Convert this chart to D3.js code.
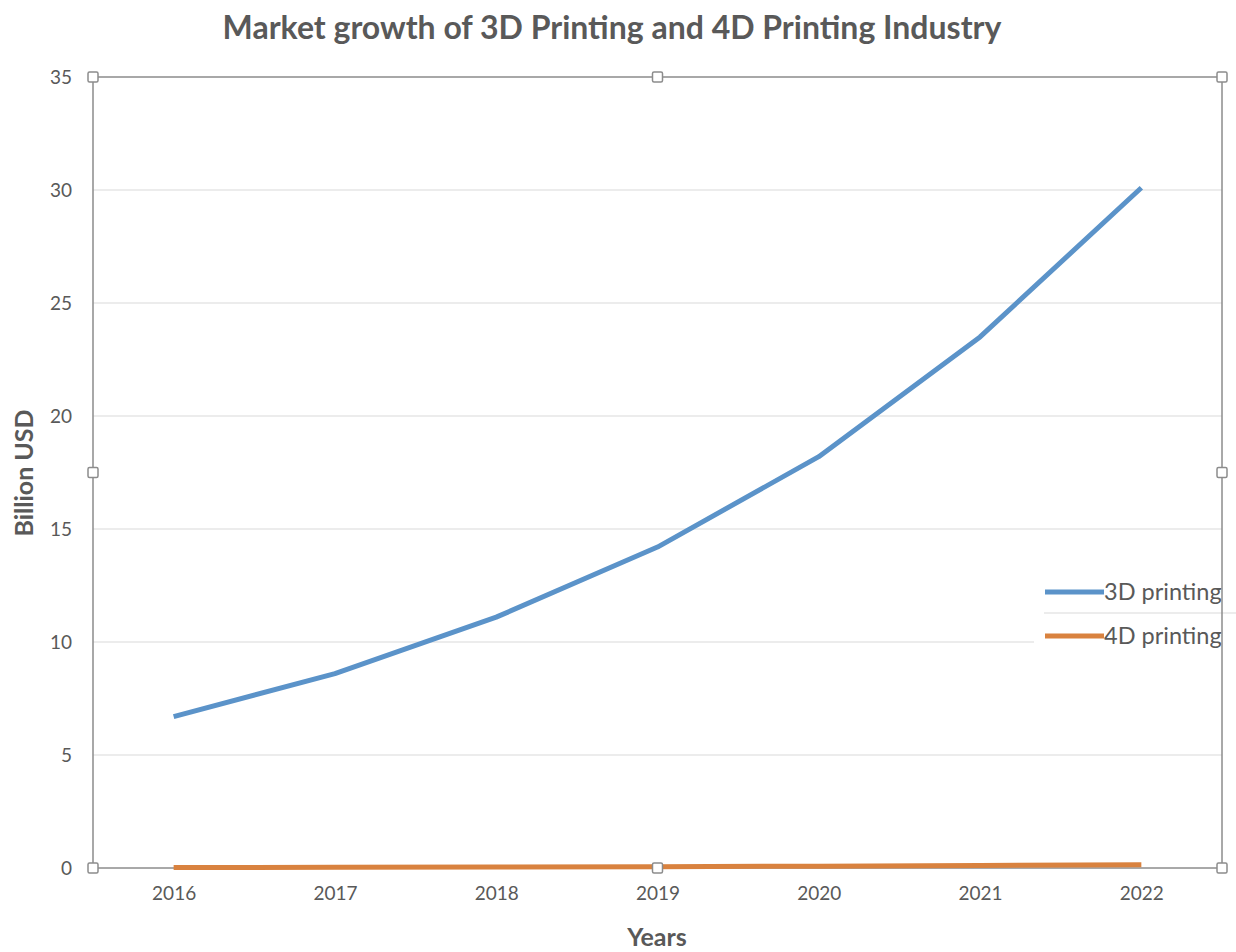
<!DOCTYPE html>
<html>
<head>
<meta charset="utf-8">
<script src="https://cdn.jsdelivr.net/npm/d3@7"></script>
<style>
  body { margin: 0; background: #fff; }
  svg { display: block; font-family: Lato, "Open Sans", sans-serif; }
</style>
</head>
<body>
<svg id="chart" width="1236" height="952"></svg>
<script>
// Data
const years = ['2016', '2017', '2018', '2019', '2020', '2021', '2022'];
const printing3D = [6.7, 8.6, 11.1, 14.2, 18.2, 23.5, 30.1];
const printing4D = [0.02, 0.03, 0.04, 0.06, 0.08, 0.11, 0.14];
const yTicks = [0, 5, 10, 15, 20, 25, 30, 35];
const seriesNames = ['3D printing', '4D printing'];
const seriesColors = ['#5b93c9', '#d9823f'];

const W = 1236, H = 952;
const m = { top: 77, right: 14, bottom: 84, left: 93 };
const w = W - m.left - m.right;
const h = H - m.top - m.bottom;

const svg = d3.select('#chart');
const g = svg.append('g').attr('transform', `translate(${m.left},${m.top})`);

const x = d3.scalePoint().domain(years).range([0, w]).padding(0.5);
const y = d3.scaleLinear().domain([0, 35]).range([h, 0]);

// Grid
g.selectAll('.grid')
    .data(yTicks.filter(d => d > 0 && d < 35))
    .enter()
    .append('line')
    .attr('x1', 0).attr('x2', w)
    .attr('y1', d => y(d)).attr('y2', d => y(d))
    .attr('stroke', '#d9d9d9')
    .attr('stroke-width', 1);

// Plot border
g.append('rect')
    .attr('width', w).attr('height', h)
    .attr('fill', 'none')
    .attr('stroke', '#8c8c8c')
    .attr('stroke-width', 1.5);

// Axes (labels only)
const yAxis = g.append('g')
    .call(d3.axisLeft(y).tickValues(yTicks).tickSize(0).tickPadding(21));
yAxis.select('.domain').remove();
yAxis.selectAll('text')
    .attr('fill', '#595959')
    .attr('font-size', '19px')
    .attr('font-family', 'Lato, sans-serif');

const xAxis = g.append('g')
    .attr('transform', `translate(0,${h})`)
    .call(d3.axisBottom(x).tickSize(0).tickPadding(19));
xAxis.select('.domain').remove();
xAxis.selectAll('text')
    .attr('fill', '#595959')
    .attr('font-size', '19px')
    .attr('font-family', 'Lato, sans-serif');

// Lines
const line = d3.line()
    .x((d, i) => x(years[i]))
    .y(d => y(d));

[[printing4D, 1], [printing3D, 0]].forEach(([vals, idx]) => {
    g.append('path').datum(vals)
        .attr('d', line)
        .attr('fill', 'none')
        .attr('stroke', seriesColors[idx])
        .attr('stroke-width', 5)
        .attr('stroke-linejoin', 'round');
});

// Selection handles (corners and edge midpoints)
const hx = [0, x('2019'), w];
const hy = [0, h / 2, h];
const handles = [];
hy.forEach((yy, j) => hx.forEach((xx, i) => {
    if (i === 1 && j === 1) return;
    handles.push([xx, yy]);
}));
g.selectAll('.handle')
    .data(handles)
    .enter()
    .append('rect')
    .attr('x', d => d[0] - 5).attr('y', d => d[1] - 5)
    .attr('width', 10).attr('height', 10)
    .attr('rx', 1.5)
    .attr('fill', '#fff')
    .attr('stroke', '#8c8c8c')
    .attr('stroke-width', 1.5);

// Legend
const leg = svg.append('g').attr('transform', 'translate(1034,572)');
leg.append('rect')
    .attr('width', 202).attr('height', 80)
    .attr('fill', '#fff');
leg.append('line')
    .attr('x1', 10).attr('x2', 202)
    .attr('y1', 41).attr('y2', 41)
    .attr('stroke', '#d9d9d9');
seriesNames.forEach((name, i) => {
    const row = leg.append('g').attr('transform', `translate(0,${20 + i * 44})`);
    row.append('line')
        .attr('x1', 11).attr('x2', 70)
        .attr('stroke', seriesColors[i])
        .attr('stroke-width', 5);
    row.append('text')
        .attr('x', 70).attr('y', 8)
        .attr('fill', '#595959')
        .attr('font-size', '23.5px')
        .attr('font-family', 'Lato, sans-serif')
        .text(name);
});
// plot border on top of legend
svg.append('line')
    .attr('x1', m.left + w).attr('x2', m.left + w)
    .attr('y1', 572).attr('y2', 652)
    .attr('stroke', '#8c8c8c')
    .attr('stroke-width', 1.5);

// Title and axis titles
svg.append('text')
    .attr('x', 612).attr('y', 39)
    .attr('text-anchor', 'middle')
    .attr('fill', '#595959')
    .attr('font-size', '32px')
    .attr('font-weight', 'bold')
    .text('Market growth of 3D Printing and 4D Printing Industry');

svg.append('text')
    .attr('transform', 'translate(33,473) rotate(-90)')
    .attr('text-anchor', 'middle')
    .attr('fill', '#595959')
    .attr('font-size', '25px')
    .attr('font-weight', 'bold')
    .text('Billion USD');

svg.append('text')
    .attr('x', 657).attr('y', 946)
    .attr('text-anchor', 'middle')
    .attr('fill', '#595959')
    .attr('font-size', '25px')
    .attr('font-weight', 'bold')
    .text('Years');
</script>
</body>
</html>
